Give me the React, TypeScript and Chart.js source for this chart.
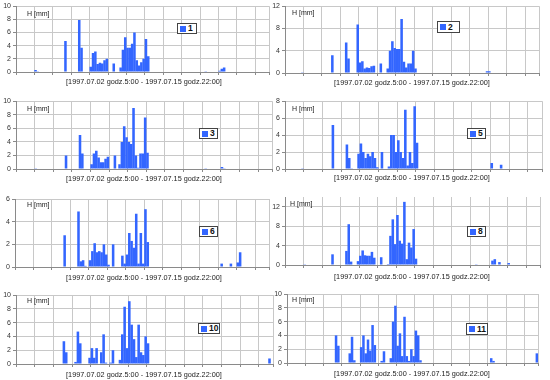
import React, { useEffect, useRef } from 'react';
import { Chart, registerables } from 'chart.js';

Chart.register(...registerables);

// ---------- text ----------
const X_LABEL = '[1997.07.02 godz.5:00 - 1997.07.15 godz.22:00]';
const Y_TITLE = 'H [mm]';

// 3-hour steps from 1997.07.02 5:00 to 1997.07.15 22:00; grid line every day (8 steps)
const SLOT_COUNT = 110;
const DAY_STEP = 8;

// ---------- data (rainfall H [mm] per 3-hour step) ----------
const station1 = [
  0, 0, 0, 0, 0, 0, 0, 0, 0.3, 0.1,
  0, 0, 0, 0, 0, 0, 0, 0, 0, 0,
  0, 4.7, 0, 0, 0, 0, 0, 7.9, 3.7, 0,
  0, 0, 0.8, 2.9, 3.1, 1.2, 1.4, 1.3, 1.8, 2.0,
  0, 0, 1.3, 0, 0, 0.7, 3.4, 5.3, 3.7, 3.7,
  4.3, 6.0, 1.8, 1.0, 1.5, 2.0, 5.0, 2.4, 0, 0,
  0, 0, 0, 0, 0, 0, 0, 0, 0, 0,
  0, 0, 0, 0, 0, 0, 0, 0, 0, 0,
  0, 0, 0.1, 0, 0, 0, 0, 0, 0.2, 0.5,
  0.7, 0, 0, 0, 0, 0, 0, 0, 0, 0,
  0, 0, 0, 0, 0, 0, 0, 0, 0, 0,
];
const station2 = [
  0, 0, 0, 0, 0, 0, 0, 0.05, 0, 0,
  0, 0, 0, 0, 0, 0, 0, 0, 0, 0,
  3.2, 0, 0, 0, 0, 0, 5.5, 2.6, 0, 0,
  0, 8.7, 1.9, 2.1, 0.8, 1.0, 0.9, 1.2, 1.3, 0,
  0, 1.7, 0, 0, 0.8, 4.0, 5.7, 4.5, 4.3, 4.3,
  9.7, 2.0, 1.0, 1.7, 1.7, 4.0, 0.8, 0, 0, 0,
  0, 0, 0, 0, 0, 0, 0, 0, 0, 0,
  0, 0, 0, 0, 0, 0, 0, 0, 0, 0,
  0, 0, 0, 0, 0, 0, 0, 0.3, 0.3, 0,
  0, 0, 0, 0, 0, 0, 0, 0, 0, 0,
  0, 0, 0, 0, 0, 0, 0, 0, 0, 0,
];
const station3 = [
  0, 0, 0, 0, 0, 0, 0, 0, 0.05, 0,
  0, 0, 0, 0, 0, 0, 0, 0, 0, 0,
  0, 2.0, 0, 0, 0, 0, 0, 5.0, 2.3, 0,
  0, 0, 0.7, 2.3, 2.7, 1.7, 1.0, 1.0, 1.5, 1.8,
  0, 0, 2.0, 0, 0.7, 4.0, 6.3, 4.7, 4.0, 3.7,
  9.0, 2.0, 0.2, 2.3, 2.3, 7.6, 2.4, 0, 0, 0,
  0, 0, 0, 0, 0, 0, 0, 0, 0, 0,
  0, 0, 0, 0, 0, 0, 0, 0, 0, 0,
  0, 0.05, 0, 0, 0, 0, 0, 0, 0.3, 0.1,
  0, 0, 0, 0, 0, 0, 0, 0, 0, 0,
  0, 0, 0, 0, 0, 0, 0, 0, 0, 0,
];
const station5 = [
  0, 0, 0, 0, 0, 0, 0, 0.1, 0, 0,
  0, 0, 0, 0, 0, 0, 0, 0, 0, 0,
  5.2, 0, 0, 0, 0, 0, 2.9, 1.3, 0.1, 0,
  0, 1.8, 3.0, 2.0, 1.3, 1.8, 1.5, 2.0, 1.3, 0.2,
  0, 2.0, 0, 0, 0.3, 4.0, 4.0, 2.0, 3.4, 2.0,
  1.3, 7.0, 0.4, 2.0, 0.7, 7.4, 3.1, 0, 0, 0,
  0, 0, 0, 0, 0, 0, 0, 0, 0, 0,
  0, 0, 0, 0, 0, 0, 0, 0, 0, 0,
  0, 0.05, 0, 0, 0, 0, 0, 0, 0.7, 0,
  0, 0, 0.5, 0, 0, 0, 0, 0, 0, 0,
  0, 0, 0, 0, 0, 0, 0, 0, 0, 0,
];
const station6 = [
  0, 0, 0, 0, 0, 0, 0, 0, 0, 0,
  0, 0, 0, 0, 0, 0, 0, 0, 0, 0,
  0, 2.8, 0, 0, 0, 0, 0, 4.9, 0.5, 0.6,
  0.1, 0, 0.6, 1.4, 2.1, 1.3, 1.4, 1.3, 2.0, 1.1,
  0.2, 0, 2.0, 0, 0, 0, 1.0, 0.3, 1.1, 3.0,
  2.3, 1.7, 4.7, 0.3, 3.0, 0.3, 5.1, 2.2, 0, 0,
  0, 0, 0, 0, 0, 0, 0, 0, 0, 0,
  0, 0, 0, 0, 0, 0, 0, 0, 0, 0,
  0, 0, 0, 0, 0, 0, 0, 0, 0, 0.3,
  0, 0, 0, 0.3, 0, 0, 0.4, 1.3, 0, 0,
  0, 0, 0, 0, 0, 0, 0, 0, 0, 0,
];
const station8 = [
  0, 0, 0, 0, 0, 0, 0, 0, 0.05, 0,
  0, 0, 0, 0, 0, 0, 0, 0, 0, 0,
  2.2, 0, 0, 0, 0, 0, 2.9, 8.4, 0.7, 0,
  0, 0.8, 1.9, 3.0, 2.0, 1.9, 1.9, 2.7, 1.5, 0.1,
  0, 1.6, 0, 0, 0.2, 6.0, 9.4, 4.3, 10.3, 5.0,
  4.4, 13.0, 1.2, 4.6, 3.6, 7.4, 1.3, 0, 0, 0,
  0, 0, 0, 0, 0, 0, 0, 0, 0, 0,
  0, 0, 0, 0, 0, 0, 0, 0, 0, 0,
  0, 0, 0.05, 0, 0, 0, 0, 0, 0, 0.9,
  1.2, 0, 0.6, 0, 0, 0, 0.4, 0, 0, 0,
  0, 0, 0, 0, 0, 0, 0, 0, 0, 0,
];
const station10 = [
  0, 0, 0, 0, 0, 0, 0, 0, 0, 0,
  0, 0, 0, 0, 0, 0, 0, 0, 0, 0,
  3.3, 1.7, 0, 0, 0, 0.3, 4.7, 3.0, 0, 0,
  0, 0.9, 2.3, 0.9, 2.3, 0, 1.7, 4.3, 0.2, 0,
  0.2, 2.0, 0, 0, 0.6, 4.3, 8.3, 2.3, 9.1, 5.7,
  3.6, 1.0, 5.7, 1.7, 1.3, 4.0, 3.0, 0, 0, 0,
  0, 0, 0, 0, 0, 0, 0, 0, 0, 0,
  0, 0, 0, 0, 0, 0, 0, 0, 0, 0,
  0, 0, 0, 0, 0, 0, 0, 0, 0, 0,
  0, 0, 0, 0, 0, 0, 0, 0, 0, 0,
  0, 0, 0, 0, 0, 0, 0, 0, 0.8, 0,
];
const station11 = [
  0, 0, 0, 0, 0, 0, 0, 0, 0, 0,
  0, 0, 0, 0, 0, 0, 0, 0, 0, 0,
  0, 4.0, 2.5, 0, 0, 0, 0, 1.4, 3.8, 0.4,
  0, 0, 2.3, 4.0, 1.4, 3.4, 1.8, 5.5, 2.6, 0,
  0, 0.3, 1.7, 0, 0, 0.7, 6.0, 8.3, 2.5, 4.3,
  1.0, 6.7, 1.0, 0.3, 2.0, 1.0, 4.7, 4.0, 0.4, 0,
  0, 0, 0, 0, 0, 0, 0, 0, 0, 0,
  0, 0, 0, 0, 0, 0, 0, 0, 0, 0,
  0, 0, 0, 0, 0, 0, 0, 0, 0, 0.7,
  0.3, 0, 0, 0, 0, 0, 0, 0, 0, 0,
  0, 0, 0, 0, 0, 0, 0, 0, 0, 1.4,
];

const stationNames = ['1', '2', '3', '5', '6', '8', '10', '11'];
const stationSeries = [station1, station2, station3, station5, station6, station8, station10, station11];
const yMaxValues = [10, 12, 10, 8, 6, 14, 10, 10];
const yStepValues = [2, 2, 2, 1, 1, 2, 2, 2];

// ---------- layout (page pixels) ----------
type Geo = {
  ox: number; oy: number; w: number; // canvas origin and width
  L: number; R: number; T: number; B: number; // plot area
  leg: [number, number, number, number]; // legend box x, y, w, h
  h: [number, number]; // "H [mm]" left, center y
  xl: [number, number]; // x label center x, center y
};
const PANEL_H = 95;
const GEO: Geo[] = [
  { ox: 0, oy: 0, w: 275, L: 16, R: 269, T: 6, B: 72, leg: [177, 23, 20, 11], h: [27, 14], xl: [144, 82] },
  { ox: 266, oy: 0, w: 284, L: 285, R: 539, T: 6, B: 73, leg: [437, 21, 23, 12], h: [292, 13], xl: [412, 83] },
  { ox: 0, oy: 95, w: 275, L: 16, R: 272, T: 101, B: 169, leg: [199, 128, 19, 11], h: [27, 109], xl: [144, 179] },
  { ox: 266, oy: 95, w: 284, L: 285, R: 542, T: 101, B: 169, leg: [467, 128, 19, 11], h: [292, 109], xl: [412, 178] },
  { ox: 0, oy: 190, w: 275, L: 15, R: 269, T: 199, B: 267, leg: [199, 226, 19, 11], h: [27, 205], xl: [144, 278] },
  { ox: 266, oy: 190, w: 284, L: 285, R: 540, T: 197, B: 265, leg: [467, 226, 19, 11], h: [290, 204], xl: [412, 277] },
  { ox: 0, oy: 285, w: 275, L: 16, R: 273, T: 295, B: 364, leg: [198, 323, 22, 11], h: [27, 301], xl: [144, 375] },
  { ox: 266, oy: 285, w: 284, L: 287, R: 538, T: 294, B: 363, leg: [466, 323, 22, 12], h: [292, 300], xl: [412, 374] },
];

const BLUE = '#3366ff';
const FONT = '"Liberation Sans", Arial, sans-serif';

function Panel({ idx }: { idx: number }) {
  const ref = useRef<HTMLCanvasElement | null>(null);
  const g = GEO[idx];
  const values = stationSeries[idx];
  const name = stationNames[idx];

  useEffect(() => {
    if (!ref.current) return;
    const chart = new Chart(ref.current, {
      type: 'bar',
      data: {
        datasets: [
          {
            label: name,
            data: values.map((v, i) => ({ x: i + 0.5, y: v })),
            backgroundColor: BLUE,
            borderWidth: 0,
            barPercentage: 1.1,
            categoryPercentage: 1,
          },
        ],
      },
      options: {
        responsive: false,
        animation: false,
        events: [],
        layout: {
          padding: { left: 0, top: g.T - g.oy, right: g.ox + g.w - g.R, bottom: 0 },
        },
        plugins: { legend: { display: false }, tooltip: { enabled: false } },
        scales: {
          x: {
            type: 'linear',
            min: 0,
            max: SLOT_COUNT,
            offset: false,
            afterBuildTicks: (s: any) => {
              const t: any[] = [];
              for (let v = 0; v < SLOT_COUNT; v += DAY_STEP) t.push({ value: v });
              t.push({ value: SLOT_COUNT });
              s.ticks = t;
            },
            afterFit: (s: any) => {
              s.height = g.oy + PANEL_H - g.B;
            },
            ticks: { display: false },
            grid: { color: '#c8c8c8', offset: false, tickLength: 3, tickColor: '#8a8a8a', lineWidth: 1 },
            border: { color: '#8a8a8a' },
          },
          y: {
            min: 0,
            max: yMaxValues[idx],
            ticks: {
              stepSize: yStepValues[idx],
              font: { family: FONT, size: 7 },
              color: '#333',
              padding: 2,
            },
            afterFit: (s: any) => {
              s.width = g.L - g.ox;
            },
            grid: { color: '#c8c8c8', tickLength: 3, tickColor: '#8a8a8a', lineWidth: 1 },
            border: { color: '#8a8a8a' },
          },
        },
      },
    } as any);
    return () => chart.destroy();
  }, [idx]);

  return (
    <>
      <canvas
        ref={ref}
        width={g.w}
        height={PANEL_H}
        style={{ position: 'absolute', left: g.ox, top: g.oy, width: g.w, height: PANEL_H }}
      />
      <div
        style={{
          position: 'absolute',
          left: g.h[0],
          top: g.h[1] - 4,
          font: `7px ${FONT}`,
          lineHeight: '8px',
          color: '#222',
          whiteSpace: 'nowrap',
        }}
      >
        {Y_TITLE}
      </div>
      <div
        style={{
          position: 'absolute',
          left: g.xl[0] - 110,
          width: 220,
          top: g.xl[1] - 4,
          textAlign: 'center',
          font: `7.3px ${FONT}`,
          lineHeight: '8px',
          color: '#222',
          whiteSpace: 'nowrap',
        }}
      >
        {X_LABEL}
      </div>
      <div
        style={{
          position: 'absolute',
          left: g.leg[0],
          top: g.leg[1],
          width: g.leg[2],
          height: g.leg[3],
          boxSizing: 'border-box',
          border: '1px solid #444',
          background: '#fff',
          display: 'flex',
          alignItems: 'center',
          paddingLeft: 2,
          gap: 2,
        }}
      >
        <span style={{ display: 'inline-block', width: 6, height: 6, background: BLUE }} />
        <span style={{ font: `bold 8.5px ${FONT}`, lineHeight: '9px', color: '#111' }}>{name}</span>
      </div>
    </>
  );
}

export default function App() {
  return (
    <div
      style={{
        position: 'absolute',
        left: 0,
        top: 0,
        width: 550,
        height: 380,
        background: '#fff',
        overflow: 'hidden',
      }}
    >
      {stationNames.map((_, i) => (
        <Panel key={i} idx={i} />
      ))}
    </div>
  );
}
